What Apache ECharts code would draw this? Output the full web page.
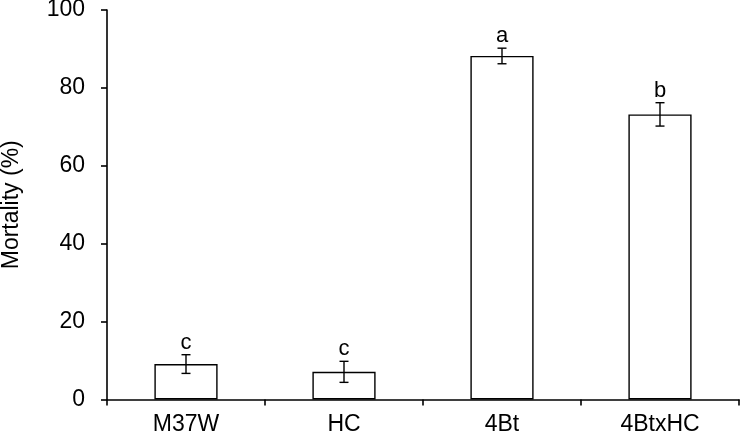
<!DOCTYPE html>
<html>
<head>
<meta charset="utf-8">
<script src="https://cdn.jsdelivr.net/npm/echarts@6/dist/echarts.min.js"></script>
<style>html,body{margin:0;padding:0;background:#fff;}#c{width:740px;height:436px;}</style>
</head>
<body>
<div id="c"></div>
<script>
var categories = ['M37W', 'HC', '4Bt', '4BtxHC'];
var mortality = [9.1, 7.1, 88.2, 73.2];
var errors = [2.4, 2.7, 2.0, 3.0];
var letters = ['c', 'c', 'a', 'b'];
var yTicks = [0, 20, 40, 60, 80, 100];

var FONT = 'Liberation Sans, Arial, sans-serif';
var chart = echarts.init(document.getElementById('c'));
var errData = categories.map(function (c, i) {
  return [i, mortality[i] - errors[i], mortality[i] + errors[i], letters[i]];
});
chart.setOption({
  animation: false,
  backgroundColor: '#fff',
  grid: { left: 107, right: 1, top: 10, bottom: 36.5, containLabel: false, outerBoundsMode: 'none' },
  xAxis: {
    type: 'category',
    data: categories,
    axisLine: { lineStyle: { color: '#000', width: 1.6 } },
    axisTick: { show: true, length: 6, lineStyle: { color: '#000', width: 1.6 } },
    axisLabel: { color: '#000', fontSize: 23, fontFamily: FONT, margin: 14 }
  },
  yAxis: {
    type: 'value',
    min: yTicks[0],
    max: yTicks[yTicks.length - 1],
    interval: yTicks[1] - yTicks[0],
    name: 'Mortality (%)',
    nameLocation: 'middle',
    nameGap: 84,
    nameTextStyle: { color: '#000', fontSize: 23, fontFamily: FONT },
    axisLine: { show: true, lineStyle: { color: '#000', width: 1.6 } },
    axisTick: { show: true, length: 6, lineStyle: { color: '#000', width: 1.6 } },
    axisLabel: { color: '#000', fontSize: 23, fontFamily: FONT, margin: 22 },
    splitLine: { show: false }
  },
  series: [
    {
      type: 'bar',
      data: mortality,
      barWidth: '40%',
      itemStyle: { color: '#fff', borderColor: '#000', borderWidth: 1.4 }
    },
    {
      type: 'custom',
      data: errData,
      z: 10,
      renderItem: function (params, api) {
        var x = api.value(0);
        var lo = api.coord([x, api.value(1)]);
        var hi = api.coord([x, api.value(2)]);
        var hw = 4.5;
        var st = { stroke: '#000', lineWidth: 1.4 };
        return {
          type: 'group',
          children: [
            { type: 'line', shape: { x1: hi[0], y1: hi[1], x2: lo[0], y2: lo[1] }, style: st },
            { type: 'line', shape: { x1: hi[0] - hw, y1: hi[1], x2: hi[0] + hw, y2: hi[1] }, style: st },
            { type: 'line', shape: { x1: lo[0] - hw, y1: lo[1], x2: lo[0] + hw, y2: lo[1] }, style: st },
            { type: 'text', style: { text: api.value(3), x: hi[0], y: hi[1] - 12, align: 'center', verticalAlign: 'middle', fill: '#000', fontSize: 22, fontFamily: FONT } }
          ]
        };
      }
    }
  ]
});
</script>
</body>
</html>
